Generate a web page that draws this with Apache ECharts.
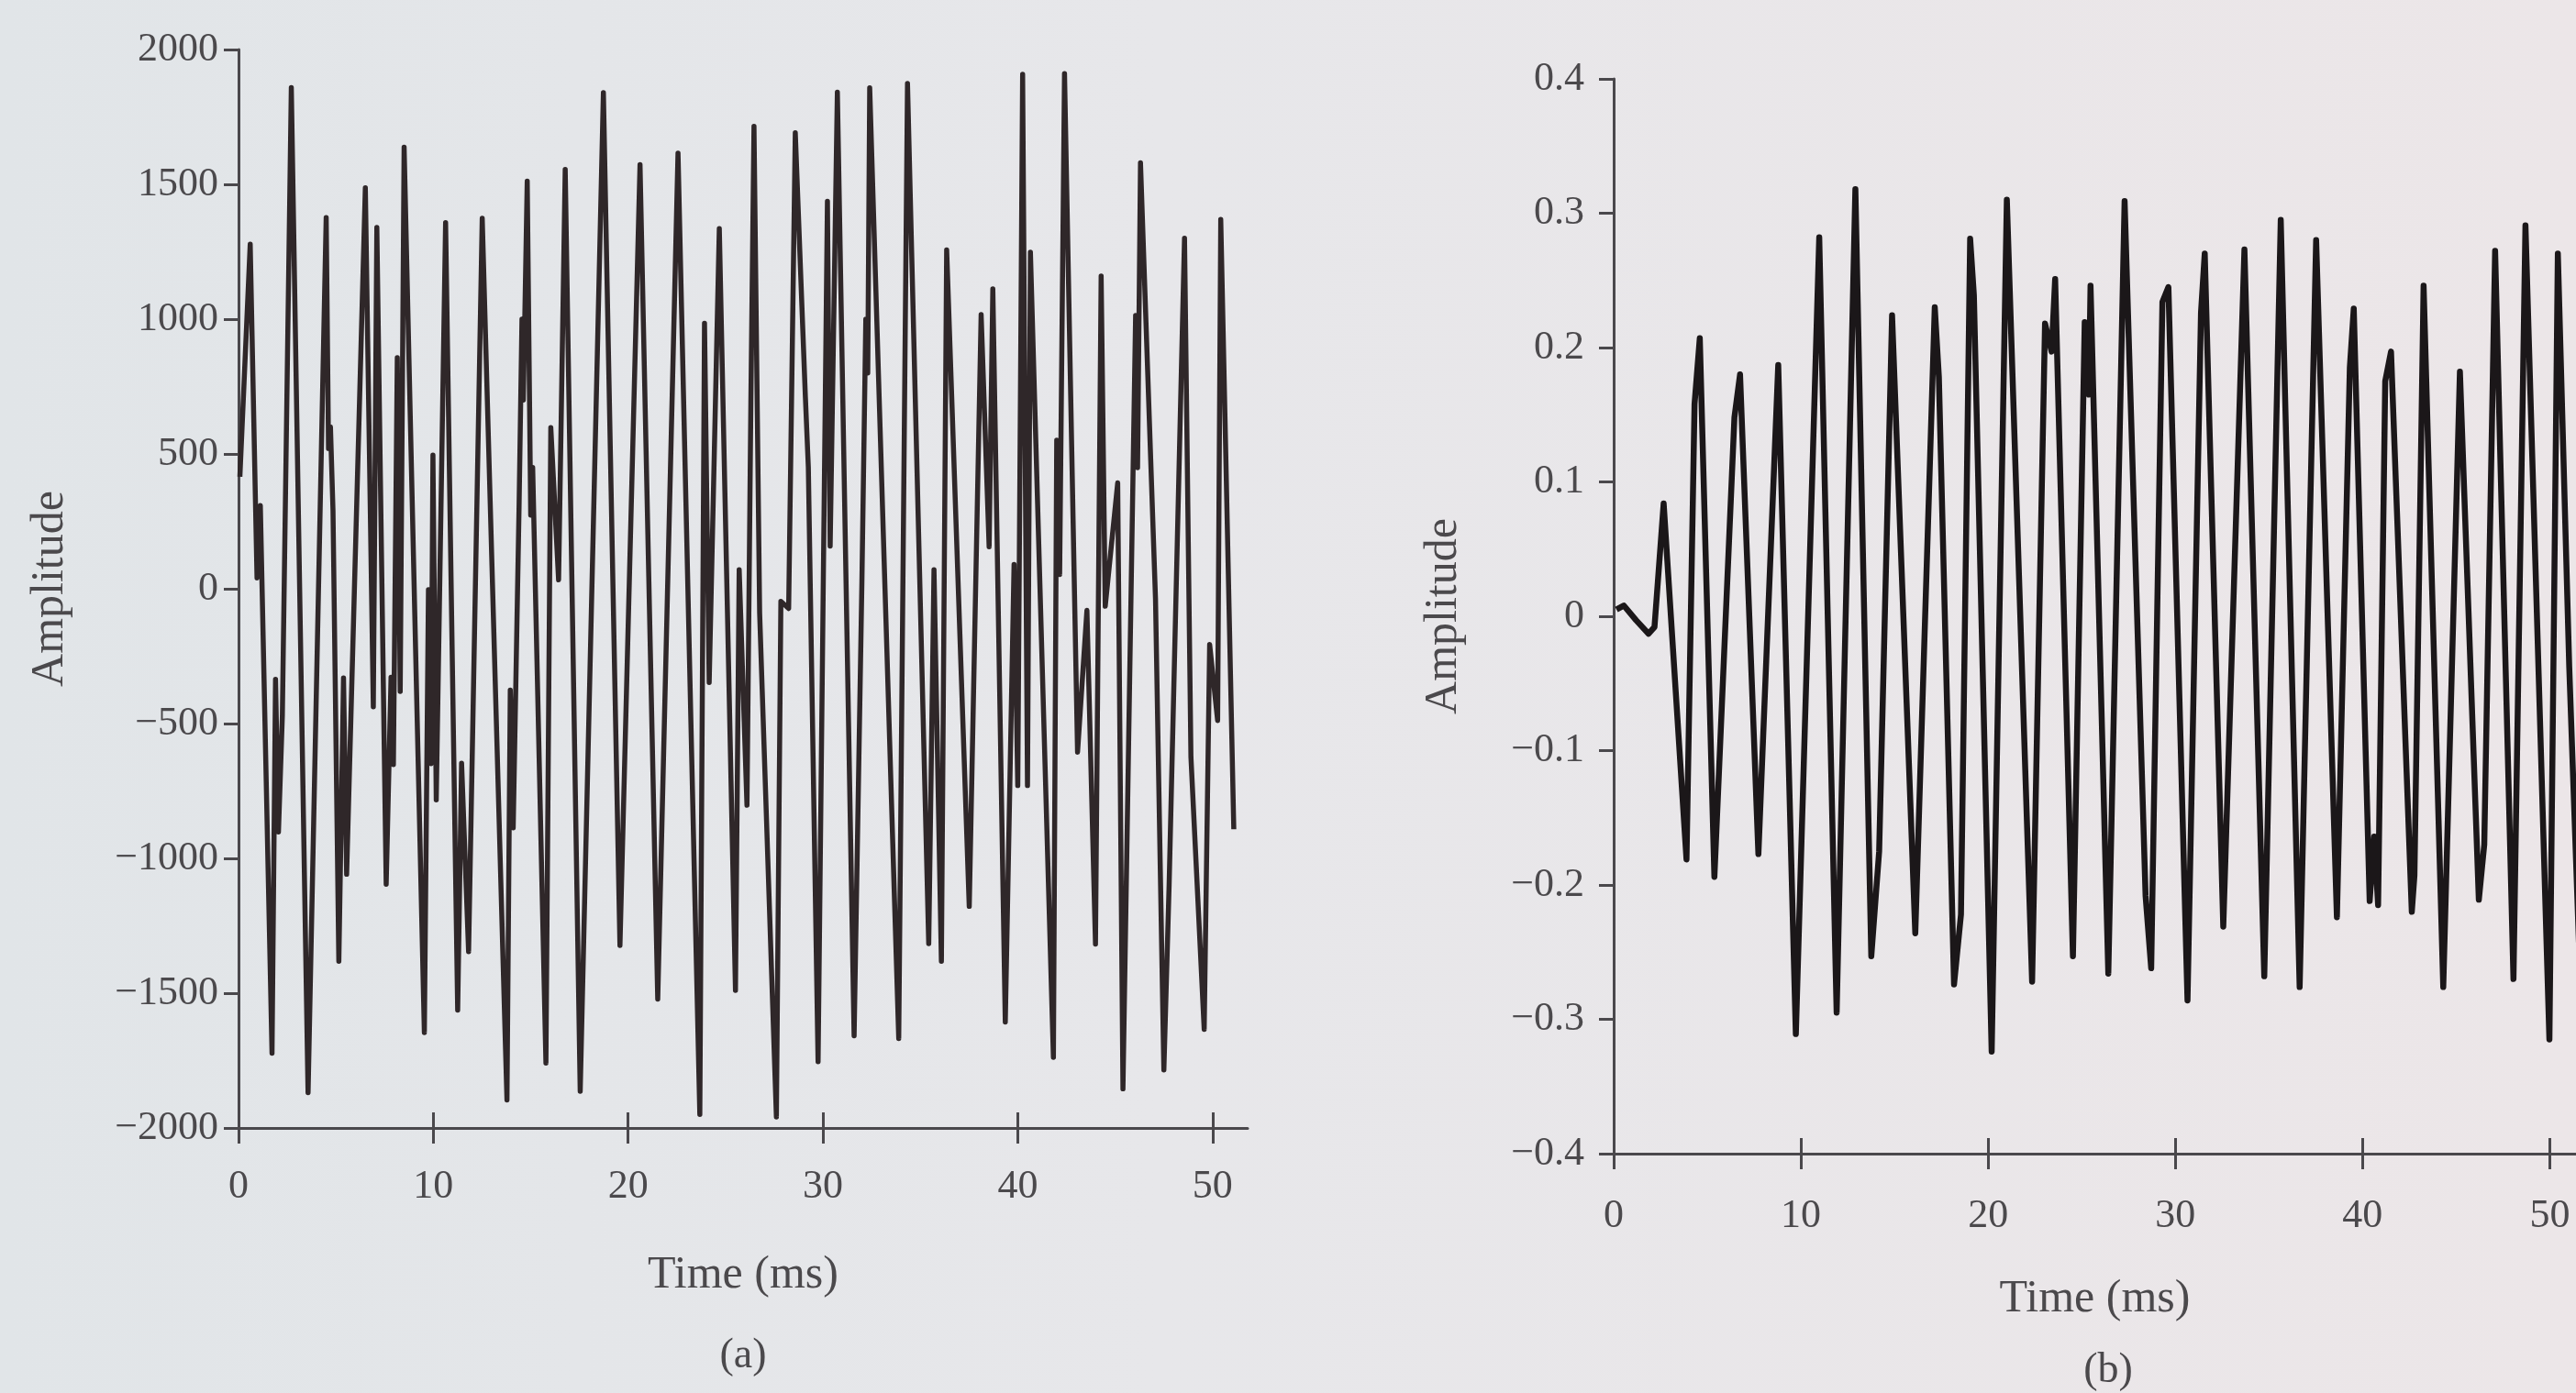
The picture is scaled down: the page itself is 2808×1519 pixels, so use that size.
<!DOCTYPE html>
<html>
<head>
<meta charset="utf-8">
<title>Amplitude vs time</title>
<script src="https://cdn.jsdelivr.net/npm/echarts@6/dist/echarts.min.js"></script>
<style>
  html, body {
    margin: 0;
    padding: 0;
    width: 2808px;
    height: 1519px;
    overflow: hidden;
    background: linear-gradient(90deg, #e1e5e8 0%, #e7e7ea 45%, #ece6e8 100%);
  }
  #chart {
    width: 2808px;
    height: 1519px;
  }
</style>
</head>
<body>
<div id="chart"></div>
<script>
// tick values shared by both panels
const timeTicks = [0, 10, 20, 30, 40, 50];
const leftAmpTicks = [-2000, -1500, -1000, -500, 0, 500, 1000, 1500, 2000];
const rightAmpTicks = [-0.4, -0.3, -0.2, -0.1, 0, 0.1, 0.2, 0.3, 0.4];

// panel (a): time in ms, amplitude (read peak by peak off the figure)
const leftTime = [0.07, 0.6, 0.95, 1.12, 1.72, 1.9, 2.05, 2.25, 2.71, 3.57, 4.5, 4.62, 4.72, 4.85, 5.15, 5.39, 5.55, 6.51, 6.92, 7.1,
  7.58, 7.83, 7.95, 8.15, 8.3, 8.5, 9.54, 9.75, 9.88, 9.98, 10.15, 10.63, 11.25, 11.45, 11.81, 12.51, 13.78, 13.95, 14.1, 14.4,
  14.55, 14.62, 14.82, 15.0, 15.1, 15.78, 16.03, 16.43, 16.77, 17.54, 18.73, 19.58, 20.61, 21.52, 22.56, 23.68, 23.92, 24.16, 24.68, 25.51,
  25.7, 26.1, 26.3, 26.46, 26.75, 27.61, 27.84, 28.24, 28.58, 29.1, 29.25, 29.75, 30.23, 30.37, 30.74, 31.6, 32.0, 32.2, 32.3, 32.4,
  33.89, 34.34, 35.43, 35.7, 36.08, 36.35, 37.51, 38.12, 38.53, 38.72, 39.36, 39.81, 40.0, 40.25, 40.5, 40.65, 41.83, 42.0, 42.15, 42.4,
  43.07, 43.55, 43.99, 44.28, 44.49, 45.13, 45.4, 46.05, 46.15, 46.3, 47.07, 47.5, 47.77, 48.56, 48.89, 49.57, 49.85, 50.26, 50.42, 51.09];
const leftAmp = [415, 1278, 40, 309, -1723, -336, -902, -471, 1859, -1869, 1377, 520, 600, 290, -1382, -331, -1059, 1487, -438, 1340,
  -1096, -328, -652, 857, -381, 1638, -1646, -3, -649, 496, -783, 1358, -1563, -647, -1346, 1374, -1896, -376, -887, 300,
  1000, 700, 1512, 273, 450, -1759, 598, 33, 1555, -1864, 1840, -1323, 1573, -1522, 1616, -1950, 985, -348, 1336, -1490,
  71, -803, 692, 1715, -89, -1959, -47, -73, 1691, 709, 450, -1754, 1437, 158, 1842, -1658, 27, 1000, 800, 1858,
  -1668, 1874, -1316, 71, -1382, 1257, -1178, 1017, 156, 1112, -1607, 90, -730, 1908, -730, 1248, -1738, 551, 53, 1911,
  -606, -80, -1318, 1160, -65, 393, -1855, 1014, 449, 1580, -35, -1785, -1098, 1300, -625, -1634, -207, -489, 1370, -892];

// panel (b)
const rightTime = [0.15, 0.54, 1.2, 1.86, 2.18, 2.67, 3.89, 4.32, 4.6, 5.38, 6.45, 6.75, 7.73, 8.79, 9.73, 10.98, 11.91, 12.91, 13.76, 14.18,
  14.87, 16.11, 17.15, 17.37, 18.18, 18.55, 19.04, 19.24, 20.19, 21.0, 22.35, 23.04, 23.39, 23.58, 24.53, 25.16, 25.38, 25.47, 26.42, 27.29,
  28.41, 28.71, 29.31, 29.63, 30.65, 31.37, 31.57, 32.56, 33.69, 34.75, 35.63, 36.64, 37.52, 38.63, 39.32, 39.53, 40.38, 40.62, 40.83, 41.21,
  41.52, 42.63, 42.77, 43.26, 44.31, 45.2, 46.21, 46.5, 47.08, 48.06, 48.7, 49.98, 50.43, 51.04, 51.6];
const rightAmp = [0.005, 0.008, -0.003, -0.013, -0.008, 0.084, -0.181, 0.158, 0.207, -0.194, 0.148, 0.18, -0.177, 0.187, -0.311, 0.282, -0.295, 0.318, -0.253, -0.175,
  0.224, -0.236, 0.23, 0.178, -0.274, -0.222, 0.281, 0.239, -0.324, 0.31, -0.272, 0.218, 0.197, 0.251, -0.253, 0.219, 0.165, 0.246, -0.266, 0.309,
  -0.208, -0.262, 0.234, 0.245, -0.286, 0.226, 0.27, -0.231, 0.273, -0.268, 0.295, -0.276, 0.28, -0.224, 0.185, 0.229, -0.212, -0.164, -0.215, 0.175,
  0.197, -0.22, -0.193, 0.246, -0.276, 0.182, -0.211, -0.17, 0.272, -0.27, 0.291, -0.315, 0.27, -0.038, -0.26];

const chart = echarts.init(document.getElementById("chart"), null, { renderer: "canvas" });

const serif = "Liberation Serif";
const textColor = "#4b494c";
const axisColor = "#4a484c";

function zip(xs, ys) {
  return xs.map((x, i) => [x, ys[i]]);
}

function withMinus(value) {
  return String(value).replace("-", "\u2212");
}

function timeAxis(gridIndex, max, nameGap, labelMargin) {
  return {
    gridIndex,
    type: "value",
    position: "bottom",
    min: 0,
    max,
    name: "Time (ms)",
    nameLocation: "middle",
    nameGap,
    nameTextStyle: { fontFamily: serif, fontSize: 50, color: textColor },
    axisLine: { onZero: false, lineStyle: { color: axisColor, width: 3 } },
    axisTick: { customValues: timeTicks, length: 17, lineStyle: { color: axisColor, width: 3 } },
    axisLabel: { customValues: timeTicks, fontFamily: serif, fontSize: 44, color: textColor, margin: labelMargin },
    splitLine: { show: false },
  };
}

// second axis on the same scale: only the inner half of each crossing tick
function innerTicks(gridIndex, max) {
  return {
    gridIndex,
    type: "value",
    position: "bottom",
    min: 0,
    max,
    axisLine: { show: false, onZero: false },
    axisTick: { inside: true, customValues: timeTicks, length: 17, lineStyle: { color: axisColor, width: 3 } },
    axisLabel: { show: false },
    splitLine: { show: false },
  };
}

function ampAxis(gridIndex, ticks, interval, nameGap, labelMargin) {
  return {
    gridIndex,
    type: "value",
    min: ticks[0],
    max: ticks[ticks.length - 1],
    interval,
    name: "Amplitude",
    nameLocation: "middle",
    nameRotate: 90,
    nameGap,
    nameTextStyle: { fontFamily: serif, fontSize: 50, color: textColor },
    axisLine: { onZero: false, lineStyle: { color: axisColor, width: 3 } },
    axisTick: { length: 16, lineStyle: { color: axisColor, width: 3 } },
    axisLabel: { fontFamily: serif, fontSize: 44, color: textColor, margin: labelMargin, formatter: withMinus },
    splitLine: { show: false },
  };
}

chart.setOption({
  animation: false,
  backgroundColor: "transparent",
  grid: [
    { left: 260, top: 54, width: 1100, height: 1176 },
    { left: 1759, top: 86, width: 1049, height: 1172 },
  ],
  xAxis: [
    timeAxis(0, 51.8, 136, 42),
    innerTicks(0, 51.8),
    timeAxis(1, 51.4, 134, 46),
    innerTicks(1, 51.4),
  ],
  yAxis: [
    ampAxis(0, leftAmpTicks, 500, 180, 22),
    ampAxis(1, rightAmpTicks, 0.1, 160, 32),
  ],
  graphic: [
    { type: "text", x: 810, y: 1479, style: { text: "(a)", font: `46px "${serif}"`, fill: textColor, align: "center", verticalAlign: "middle" } },
    { type: "text", x: 2298, y: 1495, style: { text: "(b)", font: `46px "${serif}"`, fill: textColor, align: "center", verticalAlign: "middle" } },
  ],
  series: [
    {
      type: "line",
      xAxisIndex: 0,
      yAxisIndex: 0,
      data: zip(leftTime, leftAmp),
      showSymbol: false,
      symbol: "none",
      lineStyle: { color: "#2f2729", width: 5.5, join: "round" },
    },
    {
      type: "line",
      xAxisIndex: 2,
      yAxisIndex: 1,
      data: zip(rightTime, rightAmp),
      showSymbol: false,
      symbol: "none",
      lineStyle: { color: "#1b1719", width: 6.5, join: "round" },
    },
  ],
});
</script>
</body>
</html>
